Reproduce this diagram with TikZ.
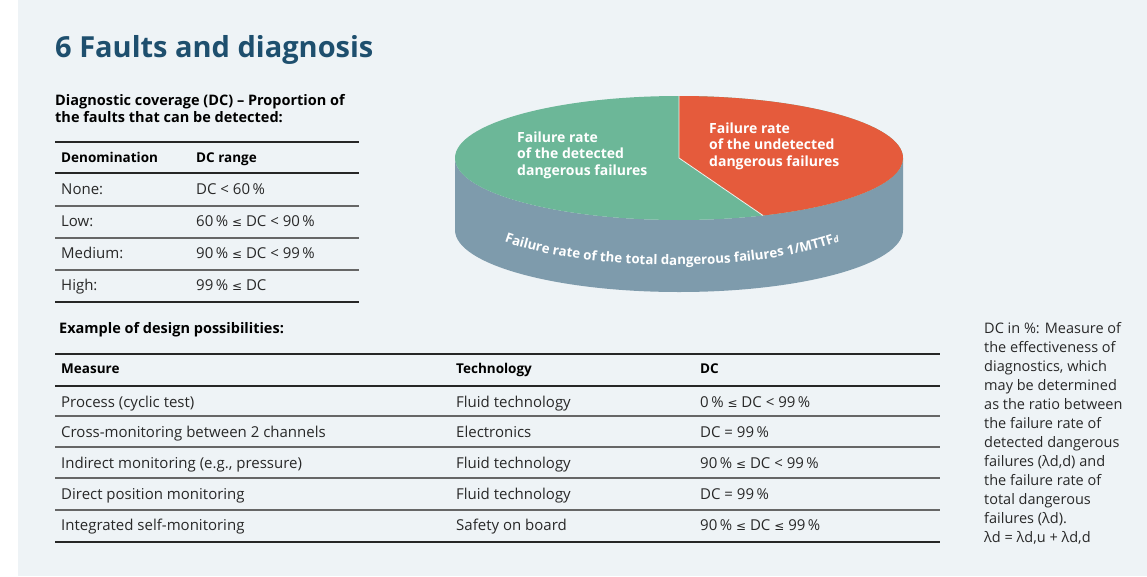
\documentclass[tikz,border=0pt]{standalone}
\usepackage{fontspec}
\setmainfont{Open Sans}
\setsansfont{Open Sans}
\newfontfamily\symfont{DejaVu Sans}
\usetikzlibrary{decorations.text}

\definecolor{bgblue}{RGB}{238,243,246}
\definecolor{titleblue}{RGB}{30,79,110}
\definecolor{piegreen}{RGB}{108,183,152}
\definecolor{piered}{RGB}{229,91,60}
\definecolor{pieside}{RGB}{126,155,172}
\definecolor{textgray}{RGB}{40,40,40}

\newcommand{\dcle}{{\symfont\fontsize{12}{12}\selectfont ≤}}

\tikzset{
  cell/.style={anchor=base west,inner sep=0pt,font=\fontsize{15}{17}\selectfont,text=textgray},
  headcell/.style={anchor=base west,inner sep=0pt,font=\fontsize{13.5}{17}\selectfont\bfseries,text=black},
  thickrule/.style={line width=2pt,black!85},
  thinrule/.style={line width=1.1pt,black!60},
  pietext/.style={anchor=base west,inner sep=0pt,align=left,text=white,font=\fontsize{14}{16.5}\selectfont\bfseries}
}

\begin{document}
\begin{tikzpicture}[x=1pt,y=-1pt]
    \useasboundingbox (0,0) rectangle (1147,576);
    \fill[bgblue] (18,0) rectangle (1147,576);

    % title and intro (multi-line nodes sit on their last baseline)
    \node[anchor=base west,inner sep=0pt,text=titleblue,font=\fontsize{29}{34}\selectfont\bfseries] (title) at (55,57) {6 Faults and diagnosis};
    \node[headcell,align=left,font=\fontsize{14.5}{17}\selectfont\bfseries] (intro) at (55,122) {Diagnostic coverage (DC) -- Proportion of\\the faults that can be detected:};

    % DC range table
    \foreach \y/\s in {142/thickrule,173/thickrule,206/thinrule,238/thinrule,270/thinrule,302/thickrule}
        \draw[\s] (55,\y) -- (359,\y);
    \node[headcell] (denhead) at (61,162) {Denomination};
    \node[headcell] (rnghead) at (196,162) {DC range};
    \foreach \i/\y/\a/\b in {1/194/{None:}/{DC < 60\,\%},
                             2/226/{Low:}/{60\,\% \dcle{} DC < 90\,\%},
                             3/258/{Medium:}/{90\,\% \dcle{} DC < 99\,\%},
                             4/290/{High:}/{99\,\% \dcle{} DC}} {
        \node[cell] (den\i) at (61,\y) {\a};
        \node[cell] (rng\i) at (196,\y) {\b};
    }

    % pie
    \coordinate (top) at (679,158);
    \fill[pieside] (455,158) -- (455,230) arc[start angle=180,end angle=360,x radius=224pt,y radius=62pt]
        -- (903,158) arc[start angle=0,end angle=-180,x radius=224pt,y radius=62pt] -- cycle;
    \fill[piegreen] (top) ellipse[x radius=224pt,y radius=62pt];
    \fill[piered] (top) -- (679,96) arc[start angle=90,end angle=-68,x radius=224pt,y radius=62pt] -- cycle;
    \draw[white!85!piegreen,line width=0.8pt] (679,96) -- (top) -- (763,215.5);

    \node[pietext] (detected) at (517,175) {Failure rate\\of the detected\\dangerous failures};
    \node[pietext] (undetected) at (709,166) {Failure rate\\of the undetected\\dangerous failures};
    \path[decorate,decoration={text along path,text align=center,text color=white,
        text={|\fontsize{13.3}{13.3}\selectfont\bfseries|Failure rate of the total dangerous failures 1/MTTF|\fontsize{9}{9}\selectfont\bfseries\itshape|d}}]
        (472.8,225.5) arc[start angle=200,end angle=340,x radius=212pt,y radius=60pt];

    % design possibilities
    \node[headcell,font=\fontsize{14.5}{17}\selectfont\bfseries] (example) at (59,333) {Example of design possibilities:};
    \foreach \y/\s in {354/thickrule,386/thickrule,416/thinrule,447/thinrule,478/thinrule,510/thinrule,542/thickrule}
        \draw[\s] (55,\y) -- (940,\y);
    \node[headcell] (meashead) at (61,373) {Measure};
    \node[headcell] (techhead) at (456,373) {Technology};
    \node[headcell] (dchead) at (700,373) {DC};
    \foreach \i/\y/\a/\b/\c in {1/407/{Process (cyclic test)}/{Fluid technology}/{0\,\% \dcle{} DC < 99\,\%},
                                2/437/{Cross-monitoring between 2 channels}/{Electronics}/{DC = 99\,\%},
                                3/468/{Indirect monitoring (e.g., pressure)}/{Fluid technology}/{90\,\% \dcle{} DC < 99\,\%},
                                4/499/{Direct position monitoring}/{Fluid technology}/{DC = 99\,\%},
                                5/530/{Integrated self-monitoring}/{Safety on board}/{90\,\% \dcle{} DC \dcle{} 99\,\%}} {
        \node[cell] (meas\i) at (61,\y) {\a};
        \node[cell] (tech\i) at (456,\y) {\b};
        \node[cell] (dc\i) at (700,\y) {\c};
    }

    % note
    \node[cell,align=left,font=\fontsize{14.5}{19}\selectfont] (note) at (984,542)
        {DC in \%: Measure of\\the effectiveness of\\diagnostics, which\\may be determined\\as the ratio between\\the failure rate of\\detected dangerous\\failures (λd,d) and\\the failure rate of\\total dangerous\\failures (λd).\\λd = λd,u + λd,d};

\end{tikzpicture}
\end{document}
